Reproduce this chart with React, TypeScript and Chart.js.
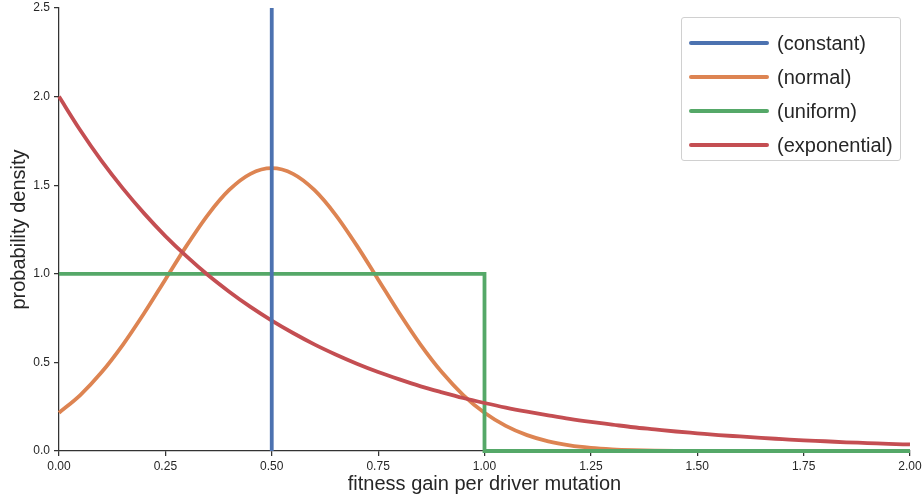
import React, { useEffect, useRef } from "react";
import { Chart, registerables } from "chart.js";

Chart.register(...registerables);

const seriesLabels = ["(constant)", "(normal)", "(uniform)", "(exponential)"];
const seriesColors = ["#4c72b0", "#dd8452", "#55a868", "#c44e52"];

const constantX = [0.5, 0.5];
const constantY = [0, 2.5];

const curveX = [
  0.0, 0.05, 0.1, 0.15, 0.2, 0.25, 0.3, 0.35, 0.4, 0.45, 0.5, 0.55, 0.6, 0.65, 0.7, 0.75, 0.8, 0.85, 0.9, 0.95,
  1.0, 1.05, 1.1, 1.15, 1.2, 1.25, 1.3, 1.35, 1.4, 1.45, 1.5, 1.55, 1.6, 1.65, 1.7, 1.75, 1.8, 1.85, 1.9, 1.95, 2.0,
];
const normalY = [
  0.216, 0.316, 0.444, 0.599, 0.777, 0.968, 1.159, 1.333, 1.473, 1.564, 1.596, 1.564, 1.473, 1.333, 1.159, 0.968,
  0.777, 0.599, 0.444, 0.316, 0.216, 0.142, 0.0895, 0.0543, 0.0316, 0.0177, 0.0095, 0.0049, 0.0024, 0.0012, 0.0005,
  0.0002, 0.0001, 0.0, 0.0, 0.0, 0.0, 0.0, 0.0, 0.0, 0.0,
];
const exponentialY = [
  2.0, 1.81, 1.637, 1.482, 1.341, 1.213, 1.098, 0.993, 0.899, 0.813, 0.736, 0.666, 0.602, 0.545, 0.493, 0.446,
  0.404, 0.365, 0.331, 0.299, 0.271, 0.245, 0.222, 0.201, 0.181, 0.164, 0.149, 0.134, 0.122, 0.11, 0.1, 0.09,
  0.082, 0.074, 0.067, 0.06, 0.055, 0.049, 0.045, 0.04, 0.037,
];
const uniformX = [0, 1, 1, 2];
const uniformY = [1, 1, 0, 0];

const xTicks = [0, 0.25, 0.5, 0.75, 1.0, 1.25, 1.5, 1.75, 2.0];
const yTicks = [0, 0.5, 1.0, 1.5, 2.0, 2.5];

const FONT = "'Liberation Sans', Arial, sans-serif";
const TEXT = "#262626";
const AXIS = "#333333";

function zip(xs: number[], ys: number[]) {
  return xs.map((x, i) => ({ x, y: ys[i] }));
}

export default function App() {
  const canvasRef = useRef<HTMLCanvasElement | null>(null);

  useEffect(() => {
    const canvas = canvasRef.current;
    if (!canvas) return;
    const common = {
      borderWidth: 3.8,
      pointRadius: 0,
      fill: false,
      borderCapStyle: "butt" as const,
      borderJoinStyle: "miter" as const,
    };
    const chart = new Chart(canvas, {
      type: "line",
      data: {
        datasets: [
          { ...common, label: seriesLabels[0], data: zip(constantX, constantY), borderColor: seriesColors[0], order: 0, clip: 4 },
          {
            ...common,
            label: seriesLabels[1],
            data: zip(curveX, normalY),
            borderColor: seriesColors[1],
            cubicInterpolationMode: "monotone" as const,
            order: 3,
            clip: 4,
          },
          { ...common, label: seriesLabels[2], data: zip(uniformX, uniformY), borderColor: seriesColors[2], order: 2, clip: 4 },
          {
            ...common,
            label: seriesLabels[3],
            data: zip(curveX, exponentialY),
            borderColor: seriesColors[3],
            cubicInterpolationMode: "monotone" as const,
            order: 1,
            clip: 4,
          },
        ],
      },
      options: {
        responsive: false,
        animation: false,
        events: [],
        layout: { padding: { top: 8, right: 13, left: 0, bottom: 0 } },
        plugins: { legend: { display: false }, tooltip: { enabled: false }, title: { display: false } },
        scales: {
          x: {
            type: "linear",
            min: 0,
            max: 2,
            afterFit: (s: any) => {
              s.height = 48;
              s.paddingLeft = 0;
              s.paddingRight = 0;
            },
            afterBuildTicks: (s: any) => {
              s.ticks = xTicks.map((v) => ({ value: v }));
            },
            ticks: {
              color: TEXT,
              font: { family: FONT, size: 12 },
              padding: 3,
              maxRotation: 0,
              autoSkip: false,
              callback: (v: any) => Number(v).toFixed(2),
            },
            grid: { drawOnChartArea: false, drawTicks: true, tickLength: 5, color: AXIS, lineWidth: 1.25 },
            border: { display: true, color: AXIS, width: 1.25 },
            title: {
              display: true,
              text: "fitness gain per driver mutation",
              color: TEXT,
              font: { family: FONT, size: 20 },
              padding: { top: 0, bottom: 3 },
            },
          },
          y: {
            type: "linear",
            min: 0,
            max: 2.5,
            afterFit: (s: any) => {
              s.width = 59;
              s.paddingTop = 0;
              s.paddingBottom = 0;
            },
            afterBuildTicks: (s: any) => {
              s.ticks = yTicks.map((v) => ({ value: v }));
            },
            ticks: {
              color: TEXT,
              font: { family: FONT, size: 12 },
              padding: 4,
              callback: (v: any) => Number(v).toFixed(1),
            },
            grid: { drawOnChartArea: false, drawTicks: true, tickLength: 5, color: AXIS, lineWidth: 1.25 },
            border: { display: true, color: AXIS, width: 1.25 },
            title: {
              display: true,
              text: "probability density",
              color: TEXT,
              font: { family: FONT, size: 20 },
              padding: { top: 7, bottom: 0 },
            },
          },
        },
      },
    });
    return () => chart.destroy();
  }, []);

  return (
    <div style={{ position: "absolute", left: 0, top: 0, width: 923, height: 499, background: "#fff" }}>
      <canvas ref={canvasRef} width={923} height={499} style={{ display: "block" }} />
      <div
        style={{
          position: "absolute",
          left: 681,
          top: 17,
          width: 220,
          height: 144,
          border: "1px solid #d0d0d0",
          borderRadius: 3,
          background: "rgba(255,255,255,0.8)",
          boxSizing: "border-box",
          fontFamily: FONT,
          fontSize: 20,
          color: TEXT,
        }}
      >
        {seriesLabels.map((lab, i) => (
          <div
            key={lab}
            style={{ position: "absolute", left: 7, top: 8 + i * 34, height: 34, display: "flex", alignItems: "center" }}
          >
            <span
              style={{
                display: "inline-block",
                width: 80,
                height: 4,
                borderRadius: 2,
                background: seriesColors[i],
                marginRight: 8,
              }}
            />
            <span style={{ whiteSpace: "nowrap" }}>{lab}</span>
          </div>
        ))}
      </div>
    </div>
  );
}
